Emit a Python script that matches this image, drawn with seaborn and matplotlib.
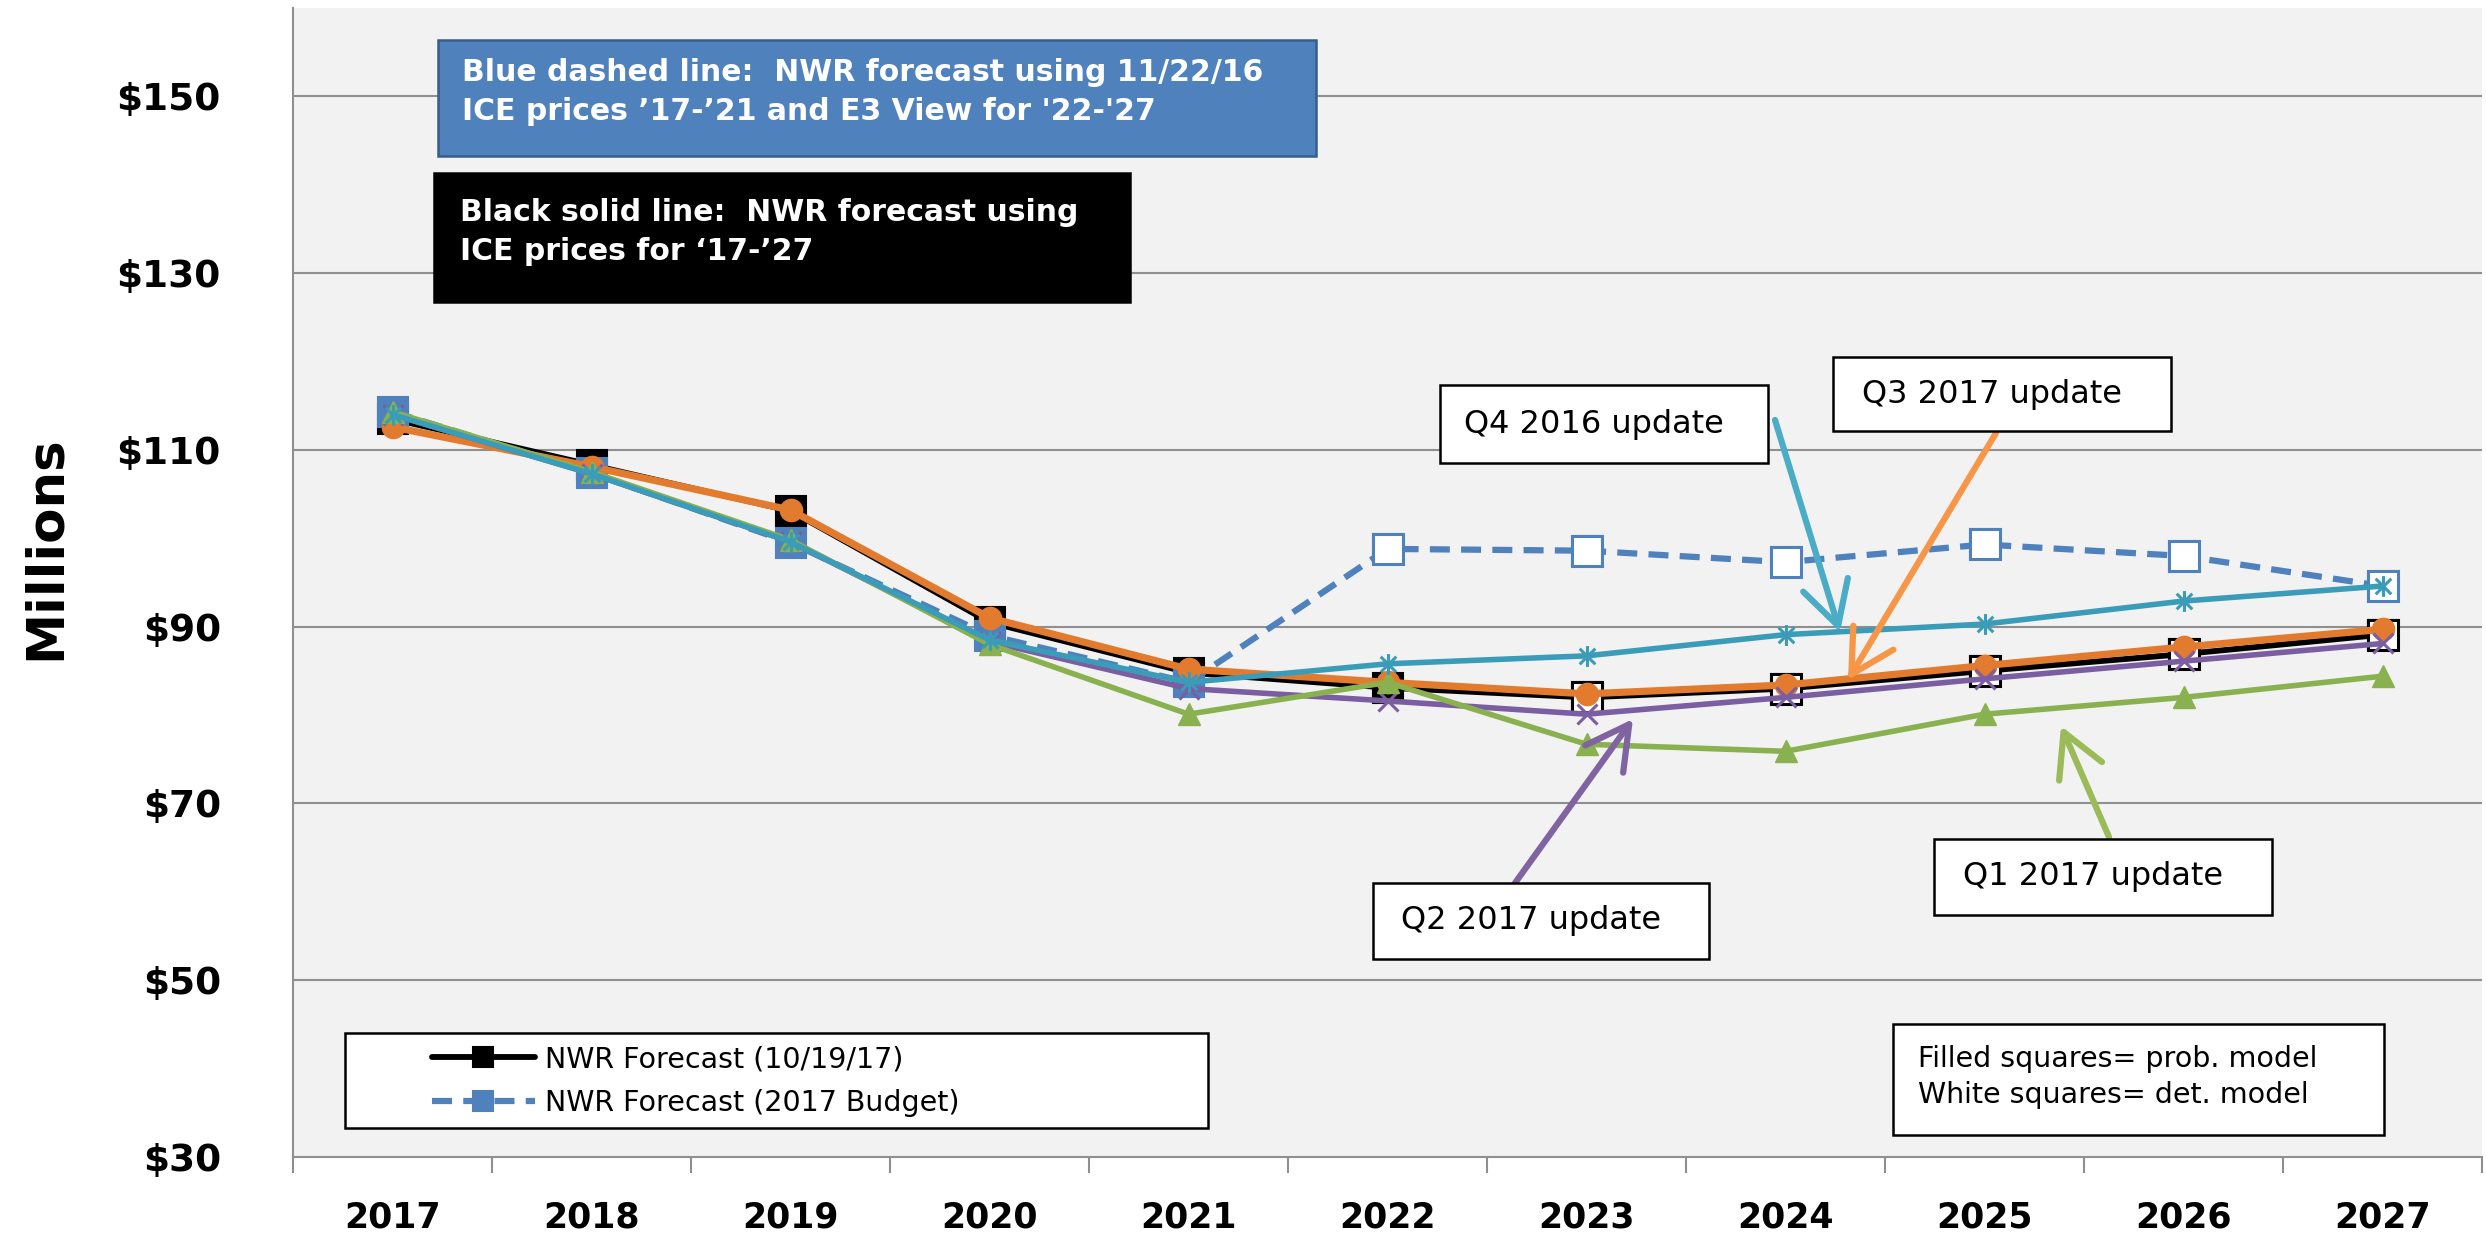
import matplotlib
matplotlib.use("Agg")
import matplotlib.pyplot as plt
import matplotlib.patches as mpatches
from matplotlib.path import Path
import seaborn as sns
import numpy as np
import pandas as pd

# ---- data ($ millions) ----
years = ["2017", "2018", "2019", "2020", "2021", "2022", "2023", "2024", "2025", "2026", "2027"]
nwr_oct17 = [113.5, 108.3, 103.1, 90.5, 84.8, 83.1, 82.0, 83.0, 85.0, 86.9, 89.1]
nwr_budget = [114.3, 107.4, 99.5, 89.0, 83.7, 98.8, 98.6, 97.3, 99.3, 98.0, 94.6]
q3_2017 = [112.6, 108.1, 103.2, 91.0, 85.2, 83.7, 82.4, 83.4, 85.6, 87.7, 89.7]
q2_2017 = [114.0, 107.3, 99.6, 88.3, 83.0, 81.6, 80.1, 82.0, 84.1, 86.1, 88.1]
q1_2017 = [114.3, 107.5, 99.8, 88.0, 80.1, 83.7, 76.7, 75.9, 80.1, 82.0, 84.4]
q4_2016 = [114.0, 107.3, 99.6, 88.5, 83.7, 85.8, 86.7, 89.1, 90.3, 92.9, 94.6]
# years shown with white squares (deterministic model)
oct17_det = [False] * 6 + [True] * 5
budget_det = [False] * 5 + [True] * 6

y_ticks = [30, 50, 70, 90, 110, 130, 150]

df = pd.DataFrame({
    "pos": np.arange(len(years)),
    "oct17": nwr_oct17, "budget": nwr_budget,
    "q3": q3_2017, "q2": q2_2017, "q1": q1_2017, "q4": q4_2016,
    "oct17_det": oct17_det, "budget_det": budget_det,
})

W, H = 2486, 1239  # output size in px, used to place annotations


def fx(px):
    return px / W


def fy(py):
    return 1 - py / H


sns.set_theme(style="white")
plt.rcParams["font.family"] = ["DejaVu Sans"]
plt.rcParams["text.color"] = "black"

fig, ax = plt.subplots(figsize=(W / 100, H / 100), dpi=100)
fig.subplots_adjust(left=fx(293), right=fx(2482), bottom=fy(1157), top=fy(8))
ax.set_facecolor("#F2F2F2")

BLUE = "#4F81BD"
ORANGE = "#E37B2F"
PURPLE = "#7B5DA1"
GREEN = "#8AB150"
TEAL = "#3B9CB9"

star = Path([(0, -1), (0, 1), (-0.75, -0.75), (0.75, 0.75), (-0.75, 0.75), (0.75, -0.75)],
            [Path.MOVETO, Path.LINETO] * 3)

# black: NWR forecast 10/19/17
sns.lineplot(data=df, x="pos", y="oct17", ax=ax, color="black", linewidth=4.2,
             marker="s", markersize=21, markerfacecolor="black", markeredgecolor="black",
             markeredgewidth=1.5, label="NWR Forecast (10/19/17)", zorder=3)
det = df[df["oct17_det"]]
ax.plot(det["pos"], det["oct17"], ls="none", marker="s", ms=21, mfc="white",
        mec="black", mew=2.2, zorder=3.1)

# blue dashed: 2017 budget
sns.lineplot(data=df, x="pos", y="budget", ax=ax, color=BLUE, linewidth=4.5,
             linestyle=(0, (3.2, 1.8)), marker="s", markersize=21, markerfacecolor=BLUE,
             markeredgecolor=BLUE, markeredgewidth=1.5,
             label="NWR Forecast (2017 Budget)", zorder=3.2)
det = df[df["budget_det"]]
ax.plot(det["pos"], det["budget"], ls="none", marker="s", ms=21, mfc="white",
        mec=BLUE, mew=2.2, zorder=3.3)

# quarterly updates
sns.lineplot(data=df, x="pos", y="q3", ax=ax, color=ORANGE, linewidth=5.2, marker="o",
             markersize=16, markeredgecolor=ORANGE, markeredgewidth=1, zorder=3.4)
sns.lineplot(data=df, x="pos", y="q2", ax=ax, color=PURPLE, linewidth=4, marker="x",
             markersize=15, markeredgecolor=PURPLE, markeredgewidth=2.2, zorder=3.5)
sns.lineplot(data=df, x="pos", y="q1", ax=ax, color=GREEN, linewidth=4, marker="^",
             markersize=16, markeredgecolor=GREEN, markeredgewidth=1, zorder=3.6)
sns.lineplot(data=df, x="pos", y="q4", ax=ax, color=TEAL, linewidth=4, marker=star,
             markersize=15, markeredgecolor=TEAL, markeredgewidth=2.2, zorder=3.7)

# ---- axes ----
ax.set_xlim(-0.5, len(years) - 0.5)
ax.set_ylim(30, 160)
ax.set_xlabel("")
ax.set_ylabel("")
grid_col = "#8F8F8F"
ax.set_yticks(y_ticks)
ax.set_yticklabels([f"${v}" for v in y_ticks], fontsize=27, fontweight="bold")
ax.tick_params(axis="y", direction="out", length=14, width=1.5, color=grid_col, pad=38,
               labelcolor="black")
ax.set_xticks(np.arange(len(years) + 1) - 0.5)
ax.set_xticklabels([])
ax.set_xticks(np.arange(len(years)), minor=True)
ax.set_xticklabels(years, minor=True, fontsize=25, fontweight="bold")
ax.tick_params(axis="x", which="major", direction="out", length=11.5, width=1.5,
               color=grid_col, bottom=True)
ax.tick_params(axis="x", which="minor", length=0, pad=31, labelcolor="black")
for v in y_ticks[1:]:
    ax.axhline(v, color=grid_col, lw=1.5, zorder=1)
for side in ["top", "right"]:
    ax.spines[side].set_visible(False)
for side in ["left", "bottom"]:
    ax.spines[side].set_color(grid_col)
    ax.spines[side].set_linewidth(1.5)

fig.text(fx(46), fy(548), "Millions", rotation=90, ha="center", va="center",
         fontsize=37, fontweight="bold")

# ---- legend (two forecast lines) ----
ax.add_patch(mpatches.Rectangle((fx(345), fy(1128)), fx(1208) - fx(345), fy(1033) - fy(1128),
                                transform=fig.transFigure, facecolor="white",
                                edgecolor="black", lw=1.8, zorder=9, clip_on=False))
handles, labels = ax.get_legend_handles_labels()
leg = ax.legend(handles[:2], labels[:2], loc="center left", bbox_to_anchor=(fx(418), fy(1081)),
                bbox_transform=fig.transFigure, frameon=False, fontsize=20.5, borderpad=0,
                handlelength=3.6, handletextpad=0.35, labelspacing=0.55, markerscale=0.7)
leg.set_zorder(10)


# ---- annotation boxes ----
def box(x0, y0, x1, y1, face, edge, lw=1.8):
    fig.add_artist(mpatches.Rectangle((fx(x0), fy(y1)), fx(x1) - fx(x0), fy(y0) - fy(y1),
                                      transform=fig.transFigure, facecolor=face,
                                      edgecolor=edge, lw=lw, zorder=5))


box(438, 40, 1316, 156, BLUE, "#385D8A")
fig.text(fx(462), fy(92), "Blue dashed line:  NWR forecast using 11/22/16\n"
         "ICE prices \u201917-\u201921 and E3 View for '22-'27",
         color="white", fontsize=21.5, fontweight="bold", va="center", ha="left",
         linespacing=1.45, zorder=6)

box(434, 173, 1130, 302, "black", "black")
fig.text(fx(460), fy(232), "Black solid line:  NWR forecast using\n"
         "ICE prices for \u201817-\u201927",
         color="white", fontsize=21.5, fontweight="bold", va="center", ha="left",
         linespacing=1.45, zorder=6)

callouts = [
    ("Q4 2016 update", (1440, 385, 1768, 463), "#4BACC6", (1775, 420), (1840, 632)),
    ("Q3 2017 update", (1833, 357, 2171, 431), "#F79646", (1996, 433), (1848, 680)),
    ("Q2 2017 update", (1373, 883, 1709, 959), "#8064A2", (1515, 883), (1633, 719)),
    ("Q1 2017 update", (1934, 839, 2272, 915), "#9BBB59", (2109, 837), (2061, 726)),
]
for text, (x0, y0, x1, y1), col, tail, head in callouts:
    fig.add_artist(mpatches.FancyArrowPatch((fx(tail[0]), fy(tail[1])), (fx(head[0]), fy(head[1])),
                                            transform=fig.transFigure,
                                            arrowstyle="->,head_length=1.1,head_width=0.6",
                                            mutation_scale=28, color=col, lw=4.5, zorder=4.5,
                                            shrinkA=0, shrinkB=0))
    box(x0, y0, x1, y1, "white", "black")
    fig.text(fx((x0 + x1) / 2 - 10), fy((y0 + y1) / 2), text, ha="center", va="center",
             fontsize=23, zorder=6)

box(1893, 1024, 2384, 1135, "white", "black")
fig.text(fx(1918), fy(1077), "Filled squares= prob. model\nWhite squares= det. model",
         ha="left", va="center", fontsize=20.5, linespacing=1.35, zorder=6)

fig.savefig("out.png", dpi=100)
